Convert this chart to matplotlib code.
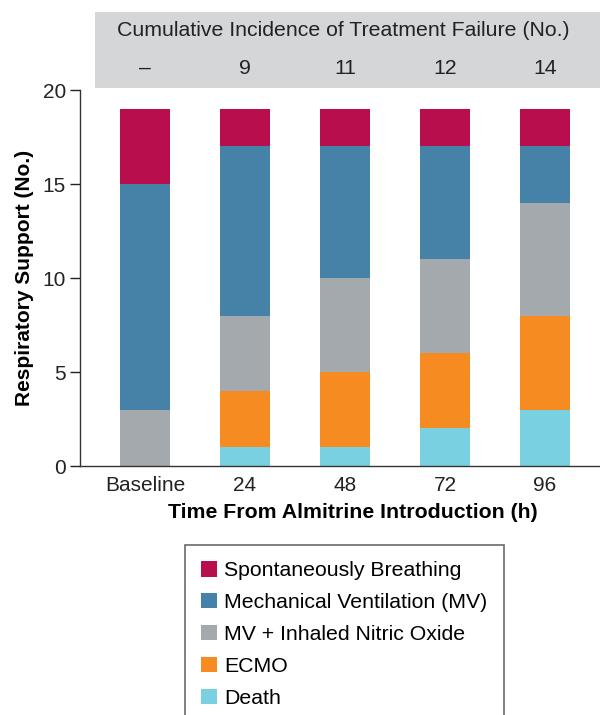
import matplotlib
matplotlib.use("Agg")
import matplotlib.pyplot as plt
from matplotlib.patches import Patch, Rectangle
from matplotlib.transforms import blended_transform_factory

plt.rcParams['font.family'] = ['Liberation Sans', 'DejaVu Sans']

# datos
time_labels = ["Baseline", "24", "48", "72", "96"]
failure_counts = ["–", "9", "11", "12", "14"]

death = [0, 1, 1, 2, 3]
ecmo = [0, 3, 4, 4, 5]
mv_ino = [3, 4, 5, 5, 6]
mv = [12, 9, 7, 6, 3]
spont = [4, 2, 2, 2, 2]

series = [
    ("Death", death, "#79d0e0"),
    ("ECMO", ecmo, "#f68b21"),
    ("MV + Inhaled Nitric Oxide", mv_ino, "#a3a9ac"),
    ("Mechanical Ventilation (MV)", mv, "#4682a8"),
    ("Spontaneously Breathing", spont, "#b90e4d"),
]

fig = plt.figure(figsize=(6, 7.15), dpi=100)
ax = fig.add_axes([80 / 600, 1 - 466 / 715, 520 / 600, 376 / 715])

x = list(range(len(time_labels)))
bottom = [0] * len(x)
for name, vals, color in series:
    ax.bar(x, vals, width=0.5, bottom=bottom, color=color, label=name)
    bottom = [b + v for b, v in zip(bottom, vals)]

ax.set_xlim(-0.65, 4.55)
ax.set_ylim(0, 20)
ax.set_yticks([0, 5, 10, 15, 20])
ax.set_xticks(x)
ax.set_xticklabels(time_labels)
ax.tick_params(axis='x', length=0, labelsize=15, pad=7, colors='#222222')
ax.tick_params(axis='y', length=7, labelsize=15, colors='#222222', width=1, pad=3)
for s in ['top', 'right']:
    ax.spines[s].set_visible(False)
for s in ['left', 'bottom']:
    ax.spines[s].set_color('#333333')
    ax.spines[s].set_linewidth(1)

ax.set_ylabel("Respiratory Support (No.)", fontsize=15, fontweight='bold', labelpad=6)
ax.set_xlabel("Time From Almitrine Introduction (h)", fontsize=15.3, fontweight='bold')
ax.xaxis.set_label_coords((353 - 80) / 520, -47 / 376)
ax.xaxis.label.set_va('center')

# banda gris de arriba
fig.patches.append(Rectangle((95 / 600, 1 - 88 / 715), 505 / 600, 76 / 715,
                             transform=fig.transFigure, facecolor='#d5d6d8',
                             edgecolor='none', zorder=0))
fig.text(343 / 600, 1 - 31 / 715, "Cumulative Incidence of Treatment Failure (No.)",
         ha='center', va='center', fontsize=15.3, color='#222222')
trans = blended_transform_factory(ax.transData, fig.transFigure)
for xi, c in zip(x, failure_counts):
    fig.text(xi, 1 - 68 / 715, c, transform=trans,
             ha='center', va='center', fontsize=15.3, color='#222222')

handles = [Patch(facecolor=c, label=n) for n, v, c in reversed(series)]
leg = fig.legend(handles=handles, loc='upper left', bbox_to_anchor=(185 / 600, 1 - 545 / 715),
                 frameon=True, fancybox=False, fontsize=15.3, handlelength=0.75, handleheight=0.75,
                 handletextpad=0.35, labelspacing=0.6, borderpad=0.75, borderaxespad=0)
leg.get_frame().set_edgecolor('#444444')
leg.get_frame().set_linewidth(1.2)

fig.savefig("out.png", dpi=100)
